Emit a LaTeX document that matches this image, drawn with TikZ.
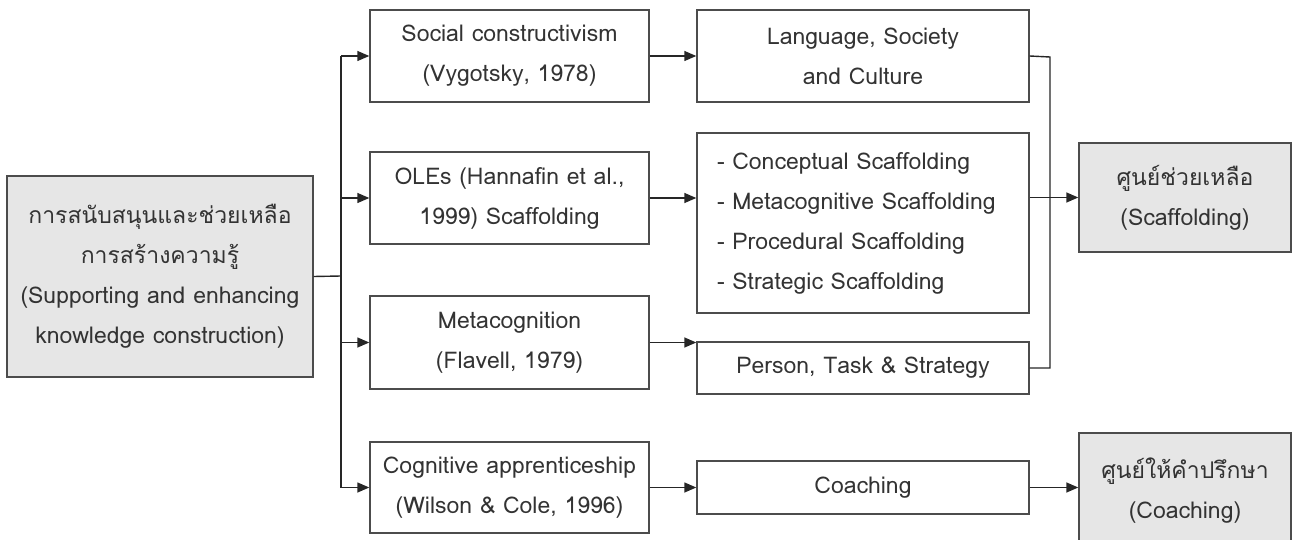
\documentclass[tikz,border=0pt]{standalone}
\usepackage{fontspec}
\setmainfont[Script=Thai]{Loma}
\usetikzlibrary{arrows.meta}
\usepackage{xcolor}
\definecolor{boxgray}{HTML}{E6E6E6}
\definecolor{inkgray}{HTML}{333333}

\begin{document}
\begin{tikzpicture}[x=0.5pt, y=-0.5pt,
        box/.style={draw=black!70, line width=0.7pt, text=inkgray, align=center,
            font=\fontsize{11.5}{20}\selectfont, inner sep=0pt},
        hub/.style={box, fill=boxgray},
        link/.style={draw=black!85, line width=0.7pt},
        arr/.style={link, -{Triangle[length=6pt, width=5pt]}}]
    \useasboundingbox (0,0) rectangle (1292,540);
    \clip (0,0) rectangle (1292,540);

    % กล่องหลัก
    \node[hub, minimum width=153pt, minimum height=100.5pt] (src) at (160,276.5)
        {การสนับสนุนและช่วยเหลือ\\การสร้างความรู้\\(Supporting and enhancing\\knowledge construction)};

    % ทฤษฎี
    \node[box, minimum width=139.5pt, minimum height=46pt] (soc) at (509.5,56)
        {Social constructivism\\(Vygotsky, 1978)};
    \node[box, minimum width=139.5pt, minimum height=46pt] (ole) at (509.5,198)
        {OLEs (Hannafin et al.,\\1999) Scaffolding};
    \node[box, minimum width=139.5pt, minimum height=46.5pt] (meta) at (509.5,342.5)
        {Metacognition\\(Flavell, 1979)};
    \node[box, minimum width=139.5pt, minimum height=45.5pt] (cog) at (509.5,487.5)
        {Cognitive apprenticeship\\(Wilson \& Cole, 1996)};

    % องค์ประกอบ
    \node[box, minimum width=166pt, minimum height=46pt] (lang) at (863,56)
        {Language, Society\\and Culture};
    \node[box, minimum width=166pt, minimum height=90pt, text width=146pt, align=left] (strat) at (863,223)
        {- Conceptual Scaffolding\\- Metacognitive Scaffolding\\- Procedural Scaffolding\\- Strategic Scaffolding};
    \node[box, minimum width=166pt, minimum height=26pt] (pts) at (863,368)
        {Person, Task \& Strategy};
    \node[box, minimum width=166pt, minimum height=26.5pt] (coach) at (863,487.5)
        {Coaching};

    % ศูนย์
    \node[hub, minimum width=106pt, minimum height=54.5pt] (help) at (1185,197.5)
        {ศูนย์ช่วยเหลือ\\(Scaffolding)};
    \node[hub, minimum width=106pt, minimum height=58pt] (advise) at (1185,491)
        {ศูนย์ให้คำปรึกษา\\(Coaching)};

    % เส้นแยก
    \coordinate (split) at (341,276);
    \coordinate (join) at (1050,57);
    \draw[link] (src.east) -- (split);
    \draw[link] (split |- soc.west) -- (split |- cog.west);
    \foreach \n in {soc,ole,meta,cog}
        \draw[arr] (split |- \n.west) -- (\n.west);

    % ลูกศร
    \draw[arr] (soc) -- (lang);
    \draw[arr] (ole.east) -- (ole.east -| strat.west);
    \draw[arr] (meta.east) -- (meta.east -| pts.west);
    \draw[arr] (cog) -- (coach);
    \draw[link] (lang.east) -- (join) -- (join |- pts.east) -- (pts.east);
    \draw[arr] (help.west -| strat.east) -- (help.west);
    \draw[arr] (coach.east) -- (coach.east -| advise.west);
\end{tikzpicture}
\end{document}
